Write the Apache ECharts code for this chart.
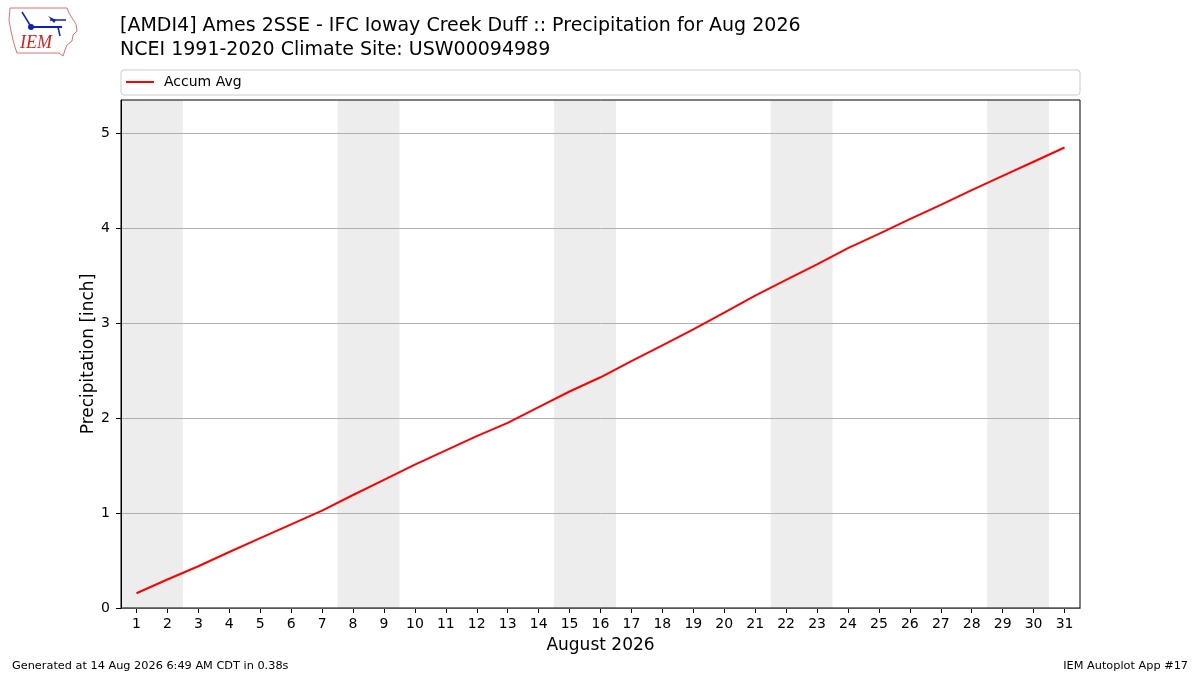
<!DOCTYPE html>
<html>
<head>
<meta charset="utf-8">
<script src="https://cdn.jsdelivr.net/npm/echarts@6/dist/echarts.min.js"></script>
<style>
html,body{margin:0;padding:0;background:#fff;}
#chart{width:1200px;height:675px;}
</style>
</head>
<body>
<div id="chart"></div>
<script>
// ---- data ----
const days = [1,2,3,4,5,6,7,8,9,10,11,12,13,14,15,16,17,18,19,20,21,22,23,24,25,26,27,28,29,30,31];
const accumAvg = [0.155,0.30,0.44,0.59,0.735,0.88,1.025,1.19,1.35,1.51,1.66,1.81,1.95,2.115,2.28,2.43,2.60,2.765,2.935,3.11,3.29,3.455,3.62,3.79,3.94,4.095,4.245,4.40,4.55,4.70,4.85];
const weekendDays = [[1,2],[8,9],[15,16],[22,23],[29,30]];
const yTicks = [0,1,2,3,4,5];
const seriesName = 'Accum Avg';
const titleLines = ['[AMDI4] Ames 2SSE - IFC Ioway Creek Duff :: Precipitation for Aug 2026','NCEI 1991-2020 Climate Site: USW00094989'];
const xTitle = 'August 2026';
const yTitle = 'Precipitation [inch]';
const footLeft = 'Generated at 14 Aug 2026 6:49 AM CDT in 0.38s';
const footRight = 'IEM Autoplot App #17';

const FONT = 'DejaVu Sans';
const chart = echarts.init(document.getElementById('chart'), null, {renderer:'canvas'});

const option = {
  backgroundColor:'#fff',
  animation:false,
  textStyle:{fontFamily:FONT},
  title:[
    {text:titleLines.join('\n'), left:115, top:9,
     textStyle:{fontFamily:FONT, fontSize:19, fontWeight:'normal', color:'#000', lineHeight:24}},
    {text:footLeft, left:7, top:656, textStyle:{fontFamily:FONT, fontSize:11.3, fontWeight:'normal', color:'#000'}},
    {text:footRight, right:7, top:656, textStyle:{fontFamily:FONT, fontSize:11.3, fontWeight:'normal', color:'#000'}}
  ],
  legend:{
    data:[{name:seriesName, icon:'rect'}], left:121, top:70, itemWidth:28, itemHeight:2,
    textStyle:{fontFamily:FONT, fontSize:14, color:'#000', padding:[0,0,0,5]}
  },
  graphic:[
    {type:'rect', shape:{x:121,y:70,width:959,height:25,r:3}, style:{fill:'none', stroke:'#cccccc', lineWidth:1}, z:-1},
    // logo (Iowa outline, IEM text, weather vane)
    {type:'polyline', shape:{points:[[10,8],[67,8],[69,13],[72,18],[76,24],[77,31],[73,35],[72,41],[67,45],[65,50],[63,56],[59,53],[17,53],[15,47],[13,40],[11,31],[9,20],[10,8]]},
     style:{stroke:'#e07070', fill:'none', lineWidth:1}},
    {type:'text', left:20, top:34, style:{text:'IEM', fontFamily:'Liberation Serif', fontStyle:'italic', fontSize:18, fill:'#d42020'}},
    {type:'line', shape:{x1:30,y1:27,x2:62,y2:27}, style:{stroke:'#1020c0', lineWidth:2}},
    {type:'circle', shape:{cx:31,cy:27,r:3}, style:{fill:'#1020c0'}},
    {type:'polygon', shape:{points:[[48,16],[56,20],[54,23]]}, style:{fill:'#1020c0'}},
    {type:'line', shape:{x1:22,y1:12,x2:30,y2:25}, style:{stroke:'#1020c0', lineWidth:1.5}},
    {type:'line', shape:{x1:58,y1:27,x2:60,y2:36}, style:{stroke:'#1020c0', lineWidth:1.5}},
    {type:'line', shape:{x1:50,y1:20,x2:66,y2:20}, style:{stroke:'#1020c0', lineWidth:1.5}}
  ],
  grid:{left:121, right:120, top:100, bottom:67, show:true, borderColor:'#000', borderWidth:1, backgroundColor:'transparent', z:10},
  xAxis:{
    type:'value', min:0.5, max:31.5,
    name:xTitle, nameLocation:'middle', nameGap:29,
    nameTextStyle:{fontFamily:FONT, fontSize:17, color:'#000'},
    axisLine:{show:true, lineStyle:{color:'#000'}},
    axisTick:{show:true, length:5, inside:false, lineStyle:{color:'#000'}, customValues:days},
    axisLabel:{fontFamily:FONT, fontSize:14, color:'#000', margin:9, customValues:days},
    splitLine:{show:false}
  },
  yAxis:{
    type:'value', min:0, max:5.35, z:3,
    name:yTitle, nameLocation:'middle', nameGap:24, nameMoveOverlap:false,
    nameTextStyle:{fontFamily:FONT, fontSize:17, color:'#000'},
    axisLine:{show:true, lineStyle:{color:'#000'}},
    axisTick:{show:true, length:5, lineStyle:{color:'#000'}, customValues:yTicks},
    axisLabel:{fontFamily:FONT, fontSize:14, color:'#000', margin:11, customValues:yTicks},
    splitLine:{show:true, lineStyle:{color:'#b0b0b0', width:1}}
  },
  series:[
    {
      name:'weekends', type:'line', data:[], z:1, silent:true,
      markArea:{silent:true, itemStyle:{color:'#ededed'},
        data:weekendDays.map(w=>[{xAxis:w[0]-0.5},{xAxis:w[1]+0.5}])}
    },
    {
      name:seriesName, type:'line', z:5, symbol:'none', smooth:false,
      lineStyle:{color:'#ff0000', width:2}, itemStyle:{color:'#ff0000'},
      data:days.map((d,i)=>[d, accumAvg[i]])
    }
  ]
};
chart.setOption(option);
</script>
</body>
</html>
